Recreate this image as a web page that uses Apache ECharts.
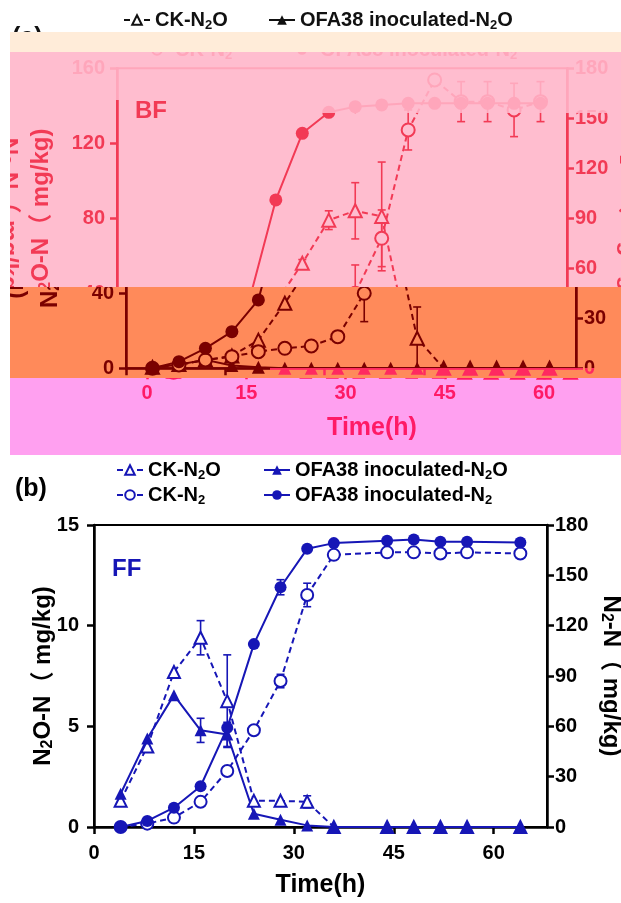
<!DOCTYPE html>
<html>
<head>
<meta charset="utf-8">
<script src="https://cdn.jsdelivr.net/npm/echarts@6/dist/echarts.min.js"></script>
<style>
    html, body { margin: 0; padding: 0; background: #fff; }
    #page { position: relative; width: 621px; height: 903px; overflow: hidden; }
    #chartB { position: absolute; left: 0; top: 0; width: 621px; height: 903px; }
    .strip { position: absolute; overflow: hidden; }
    .strip div { position: absolute; }
</style>
</head>
<body>
<div id="page"><div id="chartB"></div></div>
<script>
// ---- data: (a) BF ----
const timeBF = [4, 8, 12, 16, 20, 24, 28, 32, 36, 40, 44, 48, 52, 56, 60, 64];
const ckN2O_BF = [0.5, 2, 4.4, 6.6, 15, 34.7, 56, 79, 84, 81, 16, 0, 0, 0, 0, 0];
const ofaN2O_BF = [0.3, 2, 4.5, 1.5, 0.5, 0, 0, 0, 0, 0, 0, 0, 0, 0, 0, 0];
const ckN2_BF = [0, 2, 5, 7, 10, 12, 13.4, 19, 45, 78, 143, 173, 160, 160, 155, 160];
const ofaN2_BF = [0, 4, 12, 22, 41, 101, 141, 153.6, 157, 158, 159, 159, 159, 159, 159, 159];
const ckN2OErr_BF = [0, 0, 0, 0, 0, 0, 2, 5, 15, 29, 16.7, 0, 0, 0, 0, 0];
const ofaN2OErr_BF = [0, 0, 0, 0, 0, 0, 0, 0, 0, 0, 0, 0, 0, 0, 0, 0];
const ckN2Err_BF = [0, 0, 0, 0, 0, 0, 0, 0, 17, 17, 12, 0, 12, 12, 16, 12];
const ofaN2Err_BF = [0, 0, 0, 0, 0, 0, 0, 0, 0, 0, 0, 0, 0, 0, 0, 0];

// ---- data: (b) FF ----
const timeFF = [4, 8, 12, 16, 20, 24, 28, 32, 36, 44, 48, 52, 56, 64];
const ckN2O_FF = [1.3, 4.0, 7.7, 9.4, 6.25, 1.3, 1.3, 1.25, 0, 0, 0, 0, 0, 0];
const ofaN2O_FF = [1.65, 4.4, 6.55, 4.8, 4.6, 0.66, 0.36, 0.08, 0, 0, 0, 0, 0, 0];
const ckN2_FF = [0, 2, 5.6, 15, 33.4, 57.7, 87, 138.3, 162.2, 163.7, 163.7, 163, 163.7, 163];
const ofaN2_FF = [0, 3.6, 11.5, 24.3, 59.1, 109, 142.9, 165.8, 169.2, 170.6, 171.4, 170, 170, 169.5];
const ckN2OErr_FF = [0, 0, 0, 0.85, 2.3, 0, 0, 0.3, 0, 0, 0, 0, 0, 0];
const ofaN2OErr_FF = [0, 0, 0, 0.6, 0.6, 0, 0, 0, 0, 0, 0, 0, 0, 0];
const ckN2Err_FF = [0, 0, 0, 0, 0, 0, 4, 7, 0, 0, 0, 0, 0, 0];
const ofaN2Err_FF = [0, 0, 0, 0, 0, 0, 4.5, 0, 0, 0, 0, 0, 0, 0];

// ---- tick labels ----
const xTicks = [0, 15, 30, 45, 60];
const leftTicksBF = [0, 40, 80, 120, 160];
const leftTicksFF = [0, 5, 10, 15];
const rightTicks = [0, 30, 60, 90, 120, 150, 180];
const seriesNames = ['CK-N2O', 'OFA38 inoculated-N2O', 'CK-N2', 'OFA38 inoculated-N2'];

const FONT = '"Liberation Sans", Arial, "Noto Sans CJK SC", sans-serif';
const BLUE = '#1616b6';

const panelA = {
    grid: [117, 68.3, 450, 300], leftTicks: leftTicksBF,
    label: '(a)', labelPos: [32, 38], tag: 'BF', tagPos: [135, 111],
    legendX: [174, 319], legendY: [20, 50],
    xLabelMargin: 11, xNameGap: 43, leftLabelMargin: 12, leftNameGap: 63, rightNameGap: 49,
    symbolSize: 13, time: timeBF,
    vals: [ckN2O_BF, ofaN2O_BF, ckN2_BF, ofaN2_BF],
    errs: [ckN2OErr_BF, ofaN2OErr_BF, ckN2Err_BF, ofaN2Err_BF]
};
const panelB = {
    grid: [94, 525, 453, 302], leftTicks: leftTicksFF,
    label: '(b)', labelPos: [15, 489], tag: 'FF', tagPos: [112, 569],
    legendX: [147, 294], legendY: [470, 495],
    xLabelMargin: 16, xNameGap: 46, leftLabelMargin: 15, leftNameGap: 38, rightNameGap: 51,
    symbolSize: 12, time: timeFF,
    vals: [ckN2O_FF, ofaN2O_FF, ckN2_FF, ofaN2_FF],
    errs: [ckN2OErr_FF, ofaN2OErr_FF, ckN2Err_FF, ofaN2Err_FF]
};

function errorBars(time, vals, errs, axis, color) {
    let data = [];
    time.forEach((t, i) => { if (errs[i] > 0) data.push([t, vals[i], errs[i]]); });
    return {
        type: 'custom', yAxisIndex: axis, z: 2, silent: true, data,
        encode: { x: 0, y: 1 },
        renderItem: (params, api) => {
            let x = api.value(0), y = api.value(1), e = api.value(2);
            let hi = api.coord([x, y + e]), lo = api.coord([x, y - e]);
            let st = { stroke: color, lineWidth: 1.6 };
            return {
                type: 'group', children: [
                    { type: 'line', shape: { x1: hi[0], y1: hi[1], x2: lo[0], y2: lo[1] }, style: st },
                    { type: 'line', shape: { x1: hi[0] - 4, y1: hi[1], x2: hi[0] + 4, y2: hi[1] }, style: st },
                    { type: 'line', shape: { x1: lo[0] - 4, y1: lo[1], x2: lo[0] + 4, y2: lo[1] }, style: st }
                ]
            };
        }
    };
}

function buildPanel(p, ink, dataColor, fill) {
    const bold = size => ({ color: ink, fontFamily: FONT, fontWeight: 'bold', fontSize: size });
    const withSub = (size, lh) => Object.assign(bold(size), {
        lineHeight: lh,
        rich: { s: Object.assign(bold(Math.round(size * 0.66)), { verticalAlign: 'bottom', lineHeight: Math.round(size * 0.72) }) }
    });
    const axisLine = { lineStyle: { color: ink, width: 2.5 } };
    const axisTick = { length: 7, lineStyle: { color: ink, width: 2.5 } };

    let series = [];
    seriesNames.forEach((name, i) => {
        let open = i % 2 === 0;
        let axis = i < 2 ? 0 : 1;
        series.push({
            name, type: 'line', yAxisIndex: axis, z: 3,
            data: p.time.map((t, k) => [t, p.vals[i][k]]),
            symbol: i < 2 ? 'triangle' : 'circle', symbolSize: p.symbolSize,
            lineStyle: { color: dataColor, width: 2, type: open ? [6, 4] : 'solid' },
            itemStyle: open ? { color: fill, borderColor: dataColor, borderWidth: 2 } : { color: dataColor, borderWidth: 0 }
        });
        series.push(errorBars(p.time, p.vals[i], p.errs[i], axis, dataColor));
    });

    let legend = seriesNames.map((name, i) => ({
        data: [name], selectedMode: false, padding: 0,
        left: p.legendX[i % 2] - 31, top: p.legendY[i >> 1] - 12,
        itemWidth: 26, itemHeight: 12,
        formatter: n => n.replace(/N2/, 'N{s|2}'),
        textStyle: withSub(20, 24)
    }));

    return {
        animation: false,
        backgroundColor: 'transparent',
        grid: {
            left: p.grid[0], top: p.grid[1], width: p.grid[2], height: p.grid[3],
            outerBoundsMode: 'none', containLabel: false,
            show: true, borderColor: ink, borderWidth: 2, backgroundColor: 'transparent'
        },
        legend,
        xAxis: {
            type: 'value', min: 0, max: 68, interval: 15,
            name: 'Time(h)', nameLocation: 'middle', nameGap: p.xNameGap, nameMoveOverlap: false,
            nameTextStyle: bold(25),
            axisLine, axisTick: Object.assign({ customValues: xTicks }, axisTick),
            axisLabel: Object.assign({ customValues: xTicks, margin: p.xLabelMargin }, bold(20)),
            splitLine: { show: false }
        },
        yAxis: [{
            type: 'value', position: 'left', min: 0,
            max: p.leftTicks[p.leftTicks.length - 1], interval: p.leftTicks[1],
            name: 'N{s|2}O-N（ mg/kg)', nameLocation: 'middle', nameRotate: 90, nameGap: p.leftNameGap,
            nameMoveOverlap: false, nameTextStyle: withSub(24, 26),
            axisLine: Object.assign({ show: true }, axisLine), axisTick,
            axisLabel: Object.assign({ margin: p.leftLabelMargin }, bold(20)),
            splitLine: { show: false }
        }, {
            type: 'value', position: 'right', min: 0,
            max: rightTicks[rightTicks.length - 1], interval: rightTicks[1],
            name: 'N{s|2}-N（ mg/kg)', nameLocation: 'middle', nameRotate: -90, nameGap: p.rightNameGap,
            nameMoveOverlap: false, nameTextStyle: withSub(24, 26),
            axisLine: Object.assign({ show: true }, axisLine), axisTick,
            axisLabel: Object.assign({ margin: 8 }, bold(20)),
            splitLine: { show: false }
        }],
        graphic: [{
            type: 'text', x: p.labelPos[0], y: p.labelPos[1],
            style: { text: p.label, fill: ink, fontFamily: FONT, fontWeight: 'bold', fontSize: 25, verticalAlign: 'middle' }
        }, {
            type: 'text', x: p.tagPos[0], y: p.tagPos[1],
            style: { text: p.tag, fill: dataColor, fontFamily: FONT, fontWeight: 'bold', fontSize: 24, verticalAlign: 'middle' }
        }],
        series
    };
}

// panel (b): plain
echarts.init(document.getElementById('chartB')).setOption(buildPanel(panelB, '#000', BLUE, '#fff'));

// panel (a): drawn through tinted, shifted strips
const PINK = '#ffbdcf';
const strips = [
    { x: 0, y: 0, w: 621, h: 31.7, bg: '#ffffff', fg: '#111111', dx: -20, dy: 0 },
    { x: 10, y: 31.7, w: 611, h: 20, bg: '#ffecd9' },
    { x: 10, y: 51.7, w: 611, h: 48.3, bg: PINK, fg: '#ffa6bb', dx: 0, dy: 0 },
    { x: 10, y: 100, w: 611, h: 187, bg: PINK, fg: '#f23a55', dx: 0, dy: 0 },
    { x: 190, y: 100, w: 431, h: 13, bg: PINK, fg: '#ffa6bb', dx: 0, dy: 0 },
    { x: 10, y: 287, w: 611, h: 91, bg: '#ff8a5a', fg: '#7a0000', dx: 9, dy: 0 },
    { x: 270, y: 368, w: 351, h: 10, bg: '#ff8a5a', fg: '#ff2a60', dx: 9, dy: 0 },
    { x: 10, y: 378, w: 611, h: 77, bg: '#ffa0f0', fg: '#ff1a66', dx: 30, dy: 4 }
];
const A_W = 680, A_H = 470;
const page = document.getElementById('page');
strips.forEach(s => {
    let box = document.createElement('div');
    box.className = 'strip';
    Object.assign(box.style, { left: s.x + 'px', top: s.y + 'px', width: s.w + 'px', height: s.h + 'px', background: s.bg });
    page.appendChild(box);
    if (!s.fg) return;
    [-621, 0, 621].forEach(wrap => {
        let left = s.dx + wrap - s.x;
        if (left >= s.w || left + A_W <= 0) return;
        let el = document.createElement('div');
        Object.assign(el.style, { left: left + 'px', top: (s.dy - s.y) + 'px', width: A_W + 'px', height: A_H + 'px' });
        box.appendChild(el);
        echarts.init(el).setOption(buildPanel(panelA, s.fg, s.fg, s.bg));
    });
});
</script>
</body>
</html>
